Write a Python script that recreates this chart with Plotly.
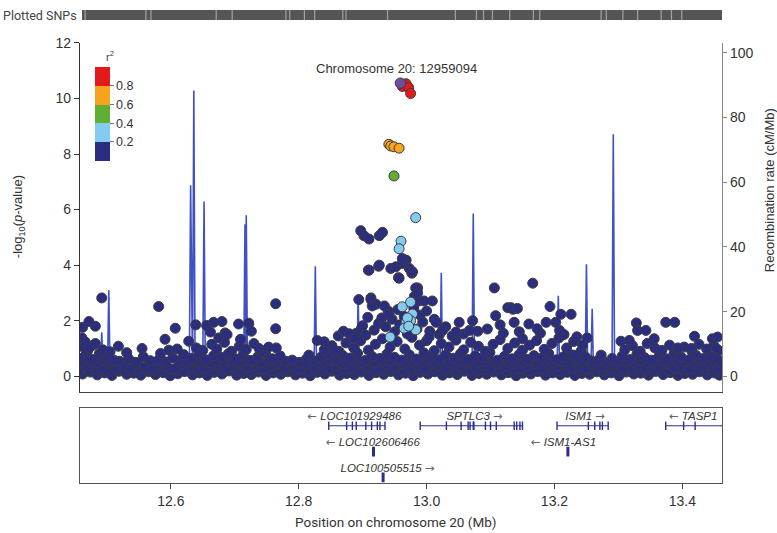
import plotly.graph_objects as go

# ---------------- data ----------------
X_RANGE = [12.458, 13.462]
LEAD_SNP = (12.959094, 10.55)
LEAD_LABEL = "Chromosome 20: 12959094"

# navy (r2 < 0.2) points, (position Mb, -log10 p)
navy_low = [
    (12.462,0.08),(12.474,0.15),(12.485,0.05),(12.497,0.12),(12.508,0.03),(12.519,0.18),(12.531,0.07),(12.542,0.11),
    (12.553,0.04),(12.565,0.16),(12.576,0.06),(12.588,0.13),(12.599,0.02),(12.611,0.09),(12.622,0.17),(12.634,0.05),
    (12.645,0.12),(12.657,0.03),(12.668,0.14),(12.680,0.08),(12.691,0.19),(12.703,0.04),(12.714,0.10),(12.726,0.06),
    (12.737,0.15),(12.749,0.03),(12.760,0.12),(12.772,0.07),(12.783,0.16),(12.795,0.05),(12.806,0.11),(12.818,0.02),
    (12.829,0.14),(12.841,0.08),(12.852,0.18),(12.864,0.04),(12.875,0.10),(12.887,0.06),(12.898,0.15),(12.910,0.03),
    (12.921,0.13),(12.933,0.07),(12.944,0.17),(12.956,0.05),(12.967,0.11),(12.979,0.02),(12.990,0.14),(13.002,0.08),
    (13.013,0.16),(13.025,0.04),(13.036,0.12),(13.048,0.06),(13.059,0.18),(13.071,0.03),(13.082,0.10),(13.094,0.07),
    (13.105,0.15),(13.117,0.05),(13.128,0.13),(13.140,0.02),(13.151,0.11),(13.163,0.08),(13.174,0.17),(13.186,0.04),
    (13.197,0.12),(13.209,0.06),(13.220,0.14),(13.232,0.03),(13.243,0.10),(13.255,0.07),(13.266,0.16),(13.278,0.05),
    (13.289,0.12),(13.301,0.02),(13.312,0.15),(13.324,0.08),(13.335,0.11),(13.347,0.04),(13.358,0.17),(13.370,0.06),
    (13.381,0.13),(13.393,0.03),(13.404,0.10),(13.416,0.07),(13.427,0.16),(13.439,0.05),(13.450,0.12),(13.458,0.04),
    (12.460,0.24),(12.471,0.21),(12.483,0.26),(12.494,0.20),(12.506,0.23),(12.517,0.25),(12.528,0.19),(12.540,0.22),
    (12.551,0.27),(12.563,0.21),(12.574,0.24),(12.586,0.20),(12.597,0.26),(12.609,0.23),(12.620,0.19),(12.632,0.25),
    (12.643,0.22),(12.655,0.27),(12.666,0.20),(12.678,0.24),(12.689,0.21),(12.701,0.26),(12.712,0.23),(12.724,0.19),
    (12.735,0.25),(12.747,0.22),(12.758,0.20),(12.770,0.27),(12.781,0.23),(12.793,0.21),(12.804,0.25),(12.816,0.19),
    (12.827,0.24),(12.839,0.22),(12.850,0.26),(12.862,0.20),(12.873,0.23),(12.885,0.25),(12.896,0.21),(12.908,0.27),
    (12.919,0.22),(12.931,0.19),(12.942,0.24),(12.954,0.26),(12.965,0.21),(12.977,0.23),(12.988,0.25),(13.000,0.20),
    (13.011,0.27),(13.023,0.22),(13.034,0.24),(13.046,0.19),(13.057,0.26),(13.069,0.23),(13.080,0.21),(13.092,0.25),
    (13.103,0.22),(13.115,0.27),(13.126,0.20),(13.138,0.24),(13.149,0.23),(13.161,0.19),(13.172,0.26),(13.184,0.22),
    (13.195,0.25),(13.207,0.21),(13.218,0.24),(13.230,0.27),(13.241,0.20),(13.253,0.23),(13.264,0.25),(13.276,0.21),
    (13.287,0.26),(13.299,0.22),(13.310,0.19),(13.322,0.24),(13.333,0.27),(13.345,0.21),(13.356,0.23),(13.368,0.25),
    (13.379,0.20),(13.391,0.26),(13.402,0.22),(13.414,0.24),(13.425,0.19),(13.437,0.25),(13.448,0.23),(13.459,0.21),
    (12.468,0.35),(12.480,0.42),(12.491,0.28),(12.503,0.46),(12.514,0.31),(12.526,0.38),(12.537,0.26),(12.549,0.44),
    (12.560,0.33),(12.571,0.29),(12.583,0.41),(12.594,0.36),(12.606,0.27),(12.617,0.45),(12.629,0.34),(12.640,0.48),
    (12.652,0.30),(12.663,0.39),(12.675,0.43),(12.686,0.28),(12.698,0.37),(12.709,0.46),(12.721,0.32),(12.732,0.40),
    (12.744,0.27),(12.755,0.35),(12.767,0.44),(12.778,0.30),(12.790,0.38),(12.801,0.26),(12.813,0.42),(12.824,0.33),
    (12.836,0.47),(12.847,0.29),(12.859,0.39),(12.870,0.45),(12.882,0.31),(12.893,0.43),(12.905,0.36),(12.916,0.48),
    (12.928,0.28),(12.939,0.41),(12.951,0.34),(12.962,0.46),(12.974,0.30),(12.985,0.40),(12.997,0.27),(13.008,0.44),
    (13.020,0.35),(13.031,0.29),(13.043,0.42),(13.054,0.37),(13.066,0.47),(13.077,0.31),(13.089,0.39),(13.100,0.26),
    (13.112,0.43),(13.123,0.34),(13.135,0.45),(13.146,0.30),(13.158,0.38),(13.169,0.46),(13.181,0.28),(13.192,0.41),
    (13.204,0.35),(13.215,0.44),(13.227,0.29),(13.238,0.37),(13.250,0.27),(13.261,0.42),(13.273,0.33),(13.284,0.39),
    (13.296,0.45),(13.307,0.30),(13.319,0.36),(13.330,0.43),(13.342,0.28),(13.353,0.40),(13.365,0.34),(13.376,0.47),
    (13.388,0.31),(13.399,0.38),(13.411,0.26),(13.422,0.44),(13.434,0.35),(13.445,0.41),(13.456,0.29),
    (12.461,0.52),(12.473,0.55),(12.484,0.49),(12.496,0.57),(12.507,0.51),(12.520,0.54),(12.545,0.50),(12.568,0.56),
    (12.591,0.52),(12.612,0.55),(12.626,0.50),(12.638,0.58),(12.649,0.53),(12.661,0.49),(12.673,0.56),(12.684,0.52),
    (12.696,0.55),(12.707,0.50),(12.719,0.57),(12.730,0.53),(12.742,0.49),(12.753,0.56),(12.765,0.52),(12.780,0.54),
    (12.801,0.50),(12.823,0.55),(12.841,0.52),(12.852,0.57),(12.864,0.50),(12.875,0.54),(12.887,0.58),(12.898,0.51),
    (12.910,0.55),(12.921,0.49),(12.933,0.56),(12.944,0.53),(12.956,0.57),(12.967,0.50),(12.979,0.54),(12.990,0.52),
    (13.002,0.58),(13.013,0.51),(13.025,0.55),(13.036,0.49),(13.048,0.56),(13.059,0.53),(13.071,0.57),(13.082,0.50),
    (13.094,0.54),(13.105,0.52),(13.117,0.58),(13.128,0.51),(13.140,0.55),(13.151,0.49),(13.163,0.56),(13.174,0.53),
    (13.186,0.57),(13.197,0.50),(13.209,0.54),(13.220,0.52),(13.232,0.58),(13.243,0.51),(13.258,0.55),(13.279,0.50),
    (13.300,0.54),(13.312,0.57),(13.324,0.51),(13.335,0.55),(13.347,0.49),(13.358,0.56),(13.370,0.53),(13.381,0.57),
    (13.393,0.50),(13.404,0.54),(13.416,0.52),(13.427,0.58),(13.439,0.51),(13.450,0.55),(13.460,0.49),
]
navy_mid = [
    (12.465,0.72),(12.476,0.61),(12.488,0.80),(12.500,0.66),(12.511,0.58),(12.534,0.63),(12.557,0.70),(12.580,0.57),
    (12.603,0.66),(12.620,0.78),(12.632,0.64),(12.644,0.83),(12.655,0.59),(12.667,0.74),(12.679,0.68),(12.690,0.81),
    (12.702,0.62),(12.713,0.76),(12.725,0.57),(12.736,0.70),(12.748,0.84),(12.759,0.63),(12.771,0.73),(12.790,0.58),
    (12.812,0.62),(12.835,0.69),(12.846,0.79),(12.858,0.60),(12.869,0.75),(12.881,0.66),(12.892,0.83),(12.904,0.57),
    (12.915,0.71),(12.927,0.64),(12.938,0.80),(12.950,0.68),(12.961,0.58),(12.973,0.77),(12.984,0.62),(12.996,0.84),
    (13.007,0.70),(13.019,0.59),(13.030,0.76),(13.042,0.65),(13.053,0.81),(13.065,0.60),(13.076,0.73),(13.088,0.67),
    (13.099,0.85),(13.111,0.58),(13.122,0.72),(13.134,0.63),(13.145,0.79),(13.157,0.61),(13.168,0.74),(13.180,0.66),
    (13.191,0.82),(13.203,0.59),(13.214,0.70),(13.226,0.77),(13.237,0.62),(13.249,0.68),(13.268,0.57),(13.290,0.64),
    (13.306,0.73),(13.318,0.60),(13.329,0.80),(13.341,0.67),(13.352,0.58),(13.364,0.75),(13.375,0.63),(13.387,0.82),
    (13.398,0.69),(13.410,0.59),(13.421,0.76),(13.433,0.64),(13.444,0.71),(13.455,0.62),
    (12.463,1.05),(12.470,0.92),(12.479,1.12),(12.494,0.95),(12.505,0.88),(12.640,1.02),(12.650,0.93),(12.664,1.15),
    (12.672,0.98),(12.684,1.22),(12.695,0.90),(12.707,1.08),(12.718,0.96),(12.730,1.18),(12.742,0.89),(12.753,1.05),
    (12.840,0.95),(12.852,1.10),(12.863,0.90),(12.874,1.20),(12.886,1.02),(12.897,1.28),(12.909,0.94),(12.920,1.15),
    (12.931,1.35),(12.943,1.05),(12.954,1.25),(12.966,0.98),(12.977,1.40),(12.989,1.12),(13.000,1.28),(13.012,0.92),
    (13.023,1.18),(13.035,1.05),(13.046,1.30),(13.058,0.95),(13.069,1.22),(13.081,1.08),(13.092,0.90),(13.104,1.15),
    (13.115,1.32),(13.127,1.00),(13.138,1.20),(13.150,0.94),(13.161,1.12),(13.172,1.28),(13.184,0.97),(13.196,1.18),
    (13.207,1.38),(13.219,1.02),(13.230,1.25),(13.242,0.92),(13.310,0.95),(13.322,1.10),(13.334,0.90),(13.345,1.18),
    (13.357,1.02),(13.368,0.93),(13.380,1.12),(13.392,0.96),(13.403,1.05),(13.415,0.90),(13.426,1.15),(13.438,0.98),
    (13.449,1.10),(13.457,0.92),
    (12.862,1.45),(12.870,1.62),(12.890,1.55),(12.898,1.72),(12.905,1.48),(12.918,1.66),(12.925,1.90),(12.930,2.10),
    (12.936,1.78),(12.940,2.35),(12.946,2.05),(12.950,1.60),(12.955,2.40),(12.958,1.85),(12.965,2.15),(12.970,1.52),
    (12.980,2.45),(12.985,1.70),(12.990,2.20),(12.994,1.95),(13.000,2.35),(13.005,1.62),(13.012,2.05),(13.020,1.50),
    (13.030,1.78),(13.040,1.45),(13.058,1.52),(13.080,1.62),(13.095,1.70),(13.115,1.85),(13.120,1.55),(13.145,1.60),
    (13.150,1.35),(13.178,1.55),(13.215,1.50),(13.235,1.42),
]
navy_high = [
    (12.492,2.82),(12.581,2.51),(12.764,2.61),(12.472,1.97),(12.482,1.80),(12.462,1.76),(12.461,1.38),(12.607,1.73),
    (12.591,1.33),(12.639,1.85),(12.656,1.83),(12.667,1.94),(12.680,1.97),(12.706,1.88),(12.722,1.91),(12.726,1.62),
    (12.764,1.71),(12.765,1.02),(12.628,1.26),(12.662,1.59),(12.685,1.56),(12.688,1.50),(12.675,1.38),(12.709,1.33),
    (12.518,1.08),(12.531,0.85),(12.555,1.00),(12.584,0.82),(12.597,0.94),(12.610,0.98),(12.466,1.24),(12.482,1.18),
    (12.472,1.02),(12.738,1.00),
    (13.106,3.18),(12.909,3.82),(12.925,3.96),(12.944,3.88),(12.952,3.94),(12.962,4.06),(12.968,4.18),(12.973,3.88),
    (12.977,3.71),(12.956,3.55),(12.986,3.18),(12.981,2.88),(12.988,2.71),(12.913,2.82),(12.921,2.59),(12.934,2.53),
    (12.941,2.23),(12.996,2.71),(13.009,2.71),(13.051,1.94),(13.072,2.00),(13.067,1.65),(13.046,1.59),(13.108,2.18),
    (13.127,2.47),(13.135,2.41),(13.015,1.94),(13.025,1.65),(13.004,1.41),(12.879,1.53),(12.887,1.35),(12.829,1.29),
    (12.840,1.24),(12.816,0.76),(12.855,0.94),(12.900,1.82),(12.908,2.12),
    (12.897,5.24),(12.902,5.06),(12.910,4.94),(12.926,5.06),(12.931,5.18),(12.910,3.82),(12.926,4.00),(12.962,4.24),
    (12.957,3.53),(12.978,3.76),(12.983,3.18),(12.986,3.00),(12.894,2.76),(12.913,2.76),(12.915,2.53),
    (13.166,3.35),(13.132,2.47),(13.142,2.44),(13.193,2.51),(13.210,2.23),(13.226,2.23),(13.187,1.94),(13.202,1.94),
    (13.208,1.65),(13.137,1.94),(13.160,1.88),(13.173,1.71),(13.251,1.38),(13.328,1.92),(13.374,1.94),(13.388,1.94),
    (13.419,1.44),(13.447,1.35),(13.455,1.41),(13.330,1.65),(13.343,1.65),(13.356,1.35),(13.304,1.26),(13.317,1.29),
    (13.393,1.02),(13.414,1.00),(13.453,1.00),(13.273,0.76),(13.244,1.12),(13.231,0.76),
]
# r2 0.2-0.4
lightblue_snps = [
    (12.983,5.71),(12.960,4.86),(12.957,4.59),(12.962,2.50),(12.975,2.67),(12.978,2.24),(12.975,2.00),
    (12.968,1.94),(12.965,1.73),(12.983,1.67),(12.943,1.41),(12.970,2.10),(12.972,1.80),
]
green_snps = [(12.949,7.21)]
orange_snps = [(12.941,8.35),(12.944,8.29),(12.949,8.26),(12.957,8.21)]
red_snps = [(12.962,10.43),(12.968,10.53),(12.972,10.39),(12.975,10.18)]
R2_NAVY, R2_LIGHTBLUE, R2_GREEN, R2_ORANGE, R2_RED = 0.1, 0.3, 0.5, 0.7, 0.9

# recombination rate (position Mb, cM/Mb)
recomb = [
    (12.458,1.5),(12.468,2.0),(12.480,1.2),(12.490,1.8),(12.492,13.6),(12.494,1.5),(12.498,2.0),(12.501,1.8),
    (12.503,26.6),(12.505,1.5),(12.515,1.0),(12.540,0.8),(12.570,1.2),(12.600,0.9),(12.620,1.5),(12.629,2.0),
    (12.631,59.0),(12.633,3.0),(12.634,2.5),(12.636,88.3),(12.638,2.0),(12.645,1.5),(12.650,2.0),(12.652,54.0),
    (12.654,1.8),(12.670,1.2),(12.690,1.0),(12.714,2.0),(12.716,47.0),(12.717,3.0),(12.718,49.8),(12.720,2.0),
    (12.740,1.2),(12.760,1.0),(12.774,1.5),(12.776,7.6),(12.778,1.2),(12.800,0.8),(12.824,1.5),(12.826,34.0),
    (12.828,1.8),(12.850,1.2),(12.870,1.0),(12.891,1.5),(12.893,25.2),(12.895,1.5),(12.920,1.0),(12.950,1.2),
    (12.980,1.0),(13.000,1.5),(13.021,1.8),(13.023,32.0),(13.025,1.5),(13.050,1.2),(13.071,1.5),(13.073,50.3),
    (13.075,1.8),(13.100,1.0),(13.130,0.8),(13.170,1.2),(13.190,1.5),(13.204,1.8),(13.206,24.9),(13.208,1.5),
    (13.230,1.2),(13.248,1.5),(13.250,34.6),(13.252,2.0),(13.257,2.5),(13.259,20.9),(13.261,1.5),(13.275,1.0),
    (13.290,1.5),(13.292,74.8),(13.294,1.8),(13.310,1.2),(13.340,1.0),(13.370,0.8),(13.400,1.2),(13.430,1.0),
    (13.462,1.5),
]

# genes
gene_names = ["LOC101929486", "SPTLC3", "ISM1", "TASP1", "LOC102606466", "ISM1-AS1", "LOC100505515"]
gene_start = [12.847, 12.990, 13.204, 13.374, 12.916, 13.220, 12.931]
gene_end = [12.935, 13.150, 13.284, 13.765, 12.918, 13.222, 12.933]
gene_strand = ["-", "+", "+", "-", "-", "-", "+"]
gene_row = [1, 1, 1, 1, 2, 2, 3]
gene_label_pos = [12.887, 13.075, 13.248, 13.417, 12.916, 13.214, 12.939]
gene_exons = [
    [12.847, 12.875, 12.884, 12.890, 12.905, 12.914, 12.923, 12.927, 12.935],
    [12.990, 13.031, 13.054, 13.065, 13.068, 13.073, 13.074, 13.092, 13.100, 13.109, 13.137, 13.141, 13.146, 13.150],
    [13.204, 13.253, 13.263, 13.271, 13.275, 13.284],
    [13.374, 13.402, 13.420],
    [12.917],
    [13.221],
    [12.932],
]

# plotted-SNP density strip: span and gaps (Mb)
snp_span = [12.461, 13.462]
snp_gaps = [12.466, 12.561, 12.569, 12.671, 12.696, 12.780, 12.786, 12.809, 12.825, 12.869, 12.874, 12.939,
            13.045, 13.078, 13.089, 13.103, 13.130, 13.167, 13.177, 13.273, 13.281, 13.307, 13.330, 13.367,
            13.383, 13.399]

# ---------------- figure ----------------
W, H = 777, 533
ML, MR, MT, MB = 80, 55, 1.5, 49.7
PW, PH = W - ML - MR, H - MT - MB


def py(px):  # pixel y -> paper y
    return 1 - (px - MT) / PH


def pxx(px):  # pixel x -> paper x
    return (px - ML) / PW


FONT = "Liberation Sans, Arial, sans-serif"
NAVY = "#2a2d80"
COLORSCALE = [
    [0.0, NAVY], [0.2, NAVY],
    [0.2, "#84ccef"], [0.4, "#84ccef"],
    [0.4, "#5fb032"], [0.6, "#5fb032"],
    [0.6, "#f6a31d"], [0.8, "#f6a31d"],
    [0.8, "#e31a1c"], [1.0, "#e31a1c"],
]

groups = [
    (navy_low, R2_NAVY), (navy_mid, R2_NAVY), (navy_high, R2_NAVY),
    (lightblue_snps, R2_LIGHTBLUE), (green_snps, R2_GREEN),
    (orange_snps, R2_ORANGE), (red_snps, R2_RED),
]
sx, sy, sc = [], [], []
for pts, r2 in groups:
    for p, v in pts:
        sx.append(p)
        sy.append(v)
        sc.append(r2)

fig = go.Figure()

# recombination rate (base axis, drawn beneath the points)
fig.add_trace(go.Scatter(
    x=[p for p, _ in recomb], y=[r for _, r in recomb], mode="lines",
    line=dict(color="#3f51c4", width=1.6), xaxis="x", yaxis="y", hoverinfo="skip",
    showlegend=False,
))

# SNPs
fig.add_trace(go.Scatter(
    x=sx, y=sy, mode="markers", xaxis="x", yaxis="y2", showlegend=False,
    marker=dict(
        size=10, color=sc, colorscale=COLORSCALE, cmin=0, cmax=1,
        line=dict(color="rgb(60,60,64)", width=1),
        showscale=True,
        colorbar=dict(
            x=pxx(95), xanchor="left", y=py(107.2), yanchor="middle",
            len=94.3, lenmode="pixels", thickness=14.5, thicknessmode="pixels",
            tickvals=[0.2, 0.4, 0.6, 0.8], ticktext=["0.2", "0.4", "0.6", "0.8"],
            ticks="outside", ticklen=4, tickcolor="#777", tickwidth=1,
            tickfont=dict(family=FONT, size=12.5, color="#333"),
            outlinewidth=0, xpad=0, ypad=0,
        ),
    ),
))
# lead SNP
fig.add_trace(go.Scatter(
    x=[LEAD_SNP[0]], y=[LEAD_SNP[1]], mode="markers", xaxis="x", yaxis="y2", showlegend=False,
    marker=dict(size=10.5, color="#6e4c9e", line=dict(color="rgb(60,60,62)", width=1)),
))

# genes
gx, gy = [], []
for s, e, r in zip(gene_start, gene_end, gene_row):
    gx += [s, e, None]
    gy += [r, r, None]
fig.add_trace(go.Scatter(x=gx, y=gy, mode="lines", line=dict(color="#2b2c8e", width=1),
                         xaxis="x3", yaxis="y3", showlegend=False, hoverinfo="skip"))
ex_multi_x, ex_multi_y, ex_single_x, ex_single_y = [], [], [], []
for exs, r in zip(gene_exons, gene_row):
    if len(exs) > 1:
        ex_multi_x += exs
        ex_multi_y += [r] * len(exs)
    else:
        ex_single_x += exs
        ex_single_y += [r] * len(exs)
fig.add_trace(go.Scatter(x=ex_multi_x, y=ex_multi_y, mode="markers", xaxis="x3", yaxis="y3",
                         marker=dict(symbol="line-ns", size=6, line=dict(color="#2b2c8e", width=1.4)),
                         showlegend=False, hoverinfo="skip"))
fig.add_trace(go.Scatter(x=ex_single_x, y=ex_single_y, mode="markers", xaxis="x3", yaxis="y3",
                         marker=dict(symbol="line-ns", size=7, line=dict(color="#2b2c8e", width=3)),
                         showlegend=False, hoverinfo="skip"))
ARROW_STYLE = "color:#666;font-family:DejaVu Sans"
labels = []
for n, st in zip(gene_names, gene_strand):
    if st == "+":
        labels.append(f"<i>{n}</i> <span style='{ARROW_STYLE}'>→</span>")
    else:
        labels.append(f"<span style='{ARROW_STYLE}'>←</span> <i>{n}</i>")
fig.add_trace(go.Scatter(
    x=gene_label_pos, y=[r - 0.33 for r in gene_row], mode="text", text=labels,
    textposition="middle center", textfont=dict(family=FONT, size=11.5, color="#333"),
    xaxis="x3", yaxis="y3", showlegend=False, hoverinfo="skip", cliponaxis=False,
))

# plotted SNPs strip
fig.add_trace(go.Bar(
    x=[snp_span[1] - snp_span[0]], base=[snp_span[0]], y=[0.5], width=[1], orientation="h",
    marker=dict(color="#555555", line=dict(width=0)), xaxis="x4", yaxis="y4",
    showlegend=False, hoverinfo="skip",
))
fig.add_trace(go.Scatter(
    x=snp_gaps, y=[0.5] * len(snp_gaps), mode="markers", xaxis="x4", yaxis="y4",
    marker=dict(symbol="line-ns", size=11, line=dict(color="#a2a2a2", width=1.2)),
    showlegend=False, hoverinfo="skip",
))

main_dom = [py(390.7), py(35)]
gene_dom = [0, py(406.7)]
strip_dom = [py(12), 1]

tickfont = dict(family=FONT, size=14, color="#333")
fig.update_layout(
    width=W, height=H,
    margin=dict(l=ML, r=MR, t=MT, b=MB),
    paper_bgcolor="white", plot_bgcolor="white",
    bargap=0,
    xaxis=dict(domain=[0, 1], anchor="y", range=X_RANGE, showline=True, linecolor="#444",
               linewidth=1.2, showticklabels=False, ticks="", showgrid=False, zeroline=False),
    yaxis=dict(domain=main_dom, anchor="x", side="right", range=[-4.85, 103],
               tickvals=[0, 20, 40, 60, 80, 100], ticks="outside", ticklen=4, tickcolor="#888",
               showline=True, linecolor="#888", linewidth=1.2, showgrid=False, zeroline=False,
               tickfont=tickfont),
    yaxis2=dict(overlaying="y", side="left", anchor="x", range=[-0.57, 12],
                tickvals=[0, 2, 4, 6, 8, 10, 12], ticks="outside", ticklen=5, tickcolor="#333",
                showline=True, linecolor="#333", linewidth=1.2, showgrid=False, zeroline=False,
                tickfont=tickfont),
    xaxis3=dict(domain=[0, 1], anchor="y3", range=X_RANGE, showline=True, mirror=True,
                linecolor="#555", linewidth=1.2, tickvals=[12.6, 12.8, 13.0, 13.2, 13.4],
                ticktext=["12.6", "12.8", "13.0", "13.2", "13.4"], ticks="outside", ticklen=5,
                tickcolor="#444", showgrid=False, zeroline=False, tickfont=tickfont),
    yaxis3=dict(domain=gene_dom, anchor="x3", range=[3.217, 0.304], showline=True, mirror=True,
                linecolor="#555", linewidth=1.2, showticklabels=False, ticks="", showgrid=False,
                zeroline=False),
    xaxis4=dict(domain=[0, 1], anchor="y4", range=X_RANGE, visible=False),
    yaxis4=dict(domain=strip_dom, anchor="x4", range=[0, 1], visible=False),
    annotations=[
        dict(text="Plotted SNPs", xref="paper", yref="paper", x=pxx(0.5), y=py(7),
             xanchor="left", yanchor="middle", showarrow=False,
             font=dict(family="Roboto, sans-serif", size=12.5, color="#444")),
        dict(text=LEAD_LABEL, xref="paper", yref="paper", x=pxx(396.7), y=py(60.7),
             xanchor="center", yanchor="middle", showarrow=False,
             font=dict(family=FONT, size=13, color="#333")),
        dict(text="r<sup>2</sup>", xref="paper", yref="paper", x=pxx(110), y=py(48),
             xanchor="center", yanchor="middle", showarrow=False,
             font=dict(family=FONT, size=11, color="#444")),
        dict(text="-log<sub>10</sub>(<i>p</i>-value)", xref="paper", yref="paper", x=pxx(18),
             y=py(212.5), xanchor="center", yanchor="middle", showarrow=False, textangle=-90,
             font=dict(family=FONT, size=13, color="#333")),
        dict(text="Recombination rate (cM/Mb)", xref="paper", yref="paper", x=pxx(769),
             y=py(185), xanchor="center", yanchor="middle", showarrow=False, textangle=-90,
             font=dict(family=FONT, size=13, color="#333")),
        dict(text="Position on chromosome 20 (Mb)", xref="paper", yref="paper", x=pxx(396),
             y=py(523), xanchor="center", yanchor="middle", showarrow=False,
             font=dict(family="Roboto, sans-serif", size=13.5, color="#333")),
    ],
)

POST = ("document.body.style.margin='0';document.body.style.padding='0';"
        "var gd=document.getElementById('{plot_id}');gd.style.position='absolute';"
        "gd.style.left='0px';gd.style.top='0px';")
fig.write_html("out.html", post_script=POST, config={"displayModeBar": False})
